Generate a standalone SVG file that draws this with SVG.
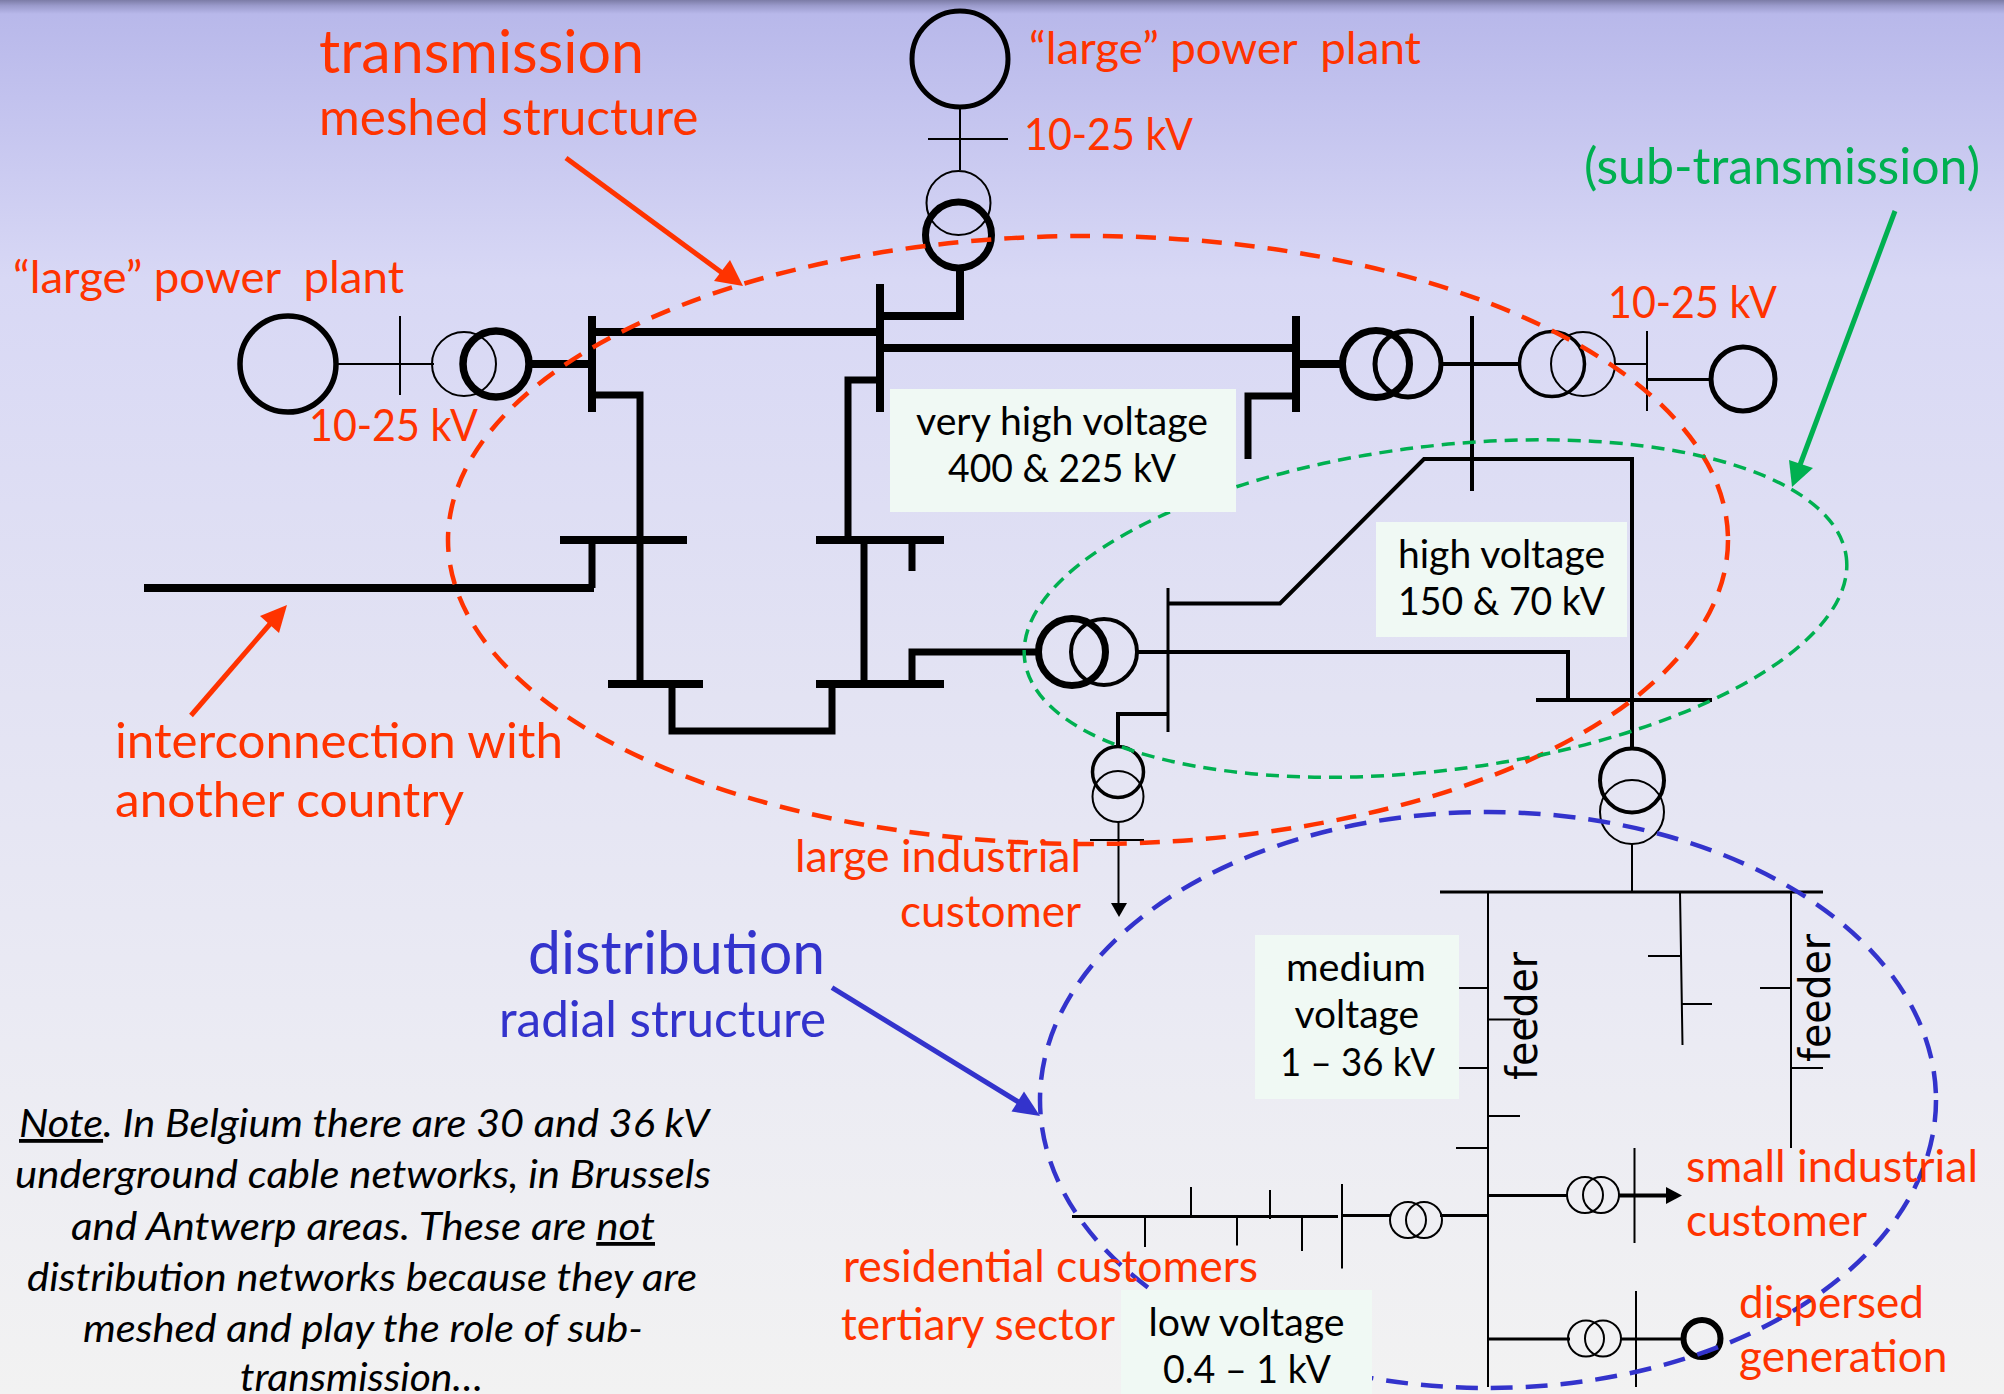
<svg xmlns="http://www.w3.org/2000/svg" width="2004" height="1394" viewBox="0 0 2004 1394">
<style>
text{font-family:"Lato","Carlito","Noto Sans",sans-serif;white-space:pre}
.red{fill:#ff3300}.blue{fill:#3333cc}.green{fill:#00b050}.blk{fill:#000}
.s41{font-size:45px}.s36{font-size:39px}.s46{font-size:50px}.s55{font-size:60px}.s44{font-size:48px}
.note{font-size:38px;font-style:italic;fill:#000}
.feeder{font-family:"DejaVu Sans",sans-serif;font-size:42px;fill:#000}
.l{fill:none;stroke:#000;stroke-linecap:butt;stroke-linejoin:miter}
.w2{stroke-width:2}.w3{stroke-width:3}.w4{stroke-width:4}.w6{stroke-width:7}.w8{stroke-width:8}
.c{fill:none;stroke:#000}
.box{fill:#f0f9f4}
.eRed{fill:none;stroke:#ff3300;stroke-width:4.500;stroke-dasharray:20 13}
.eGreen{fill:none;stroke:#00b050;stroke-width:3.500;stroke-dasharray:13 8}
.eBlue{fill:none;stroke:#3333cc;stroke-width:4.500;stroke-dasharray:22 13}
</style>
<defs>
<linearGradient id="bg" x1="0" y1="0" x2="0" y2="1">
<stop offset="0" stop-color="#7c7ca6"/><stop offset="0.004" stop-color="#9a9acb"/><stop offset="0.01" stop-color="#b8b8ea"/><stop offset="0.07" stop-color="#c2c2ee"/><stop offset="0.2" stop-color="#d8d8f5"/><stop offset="0.5" stop-color="#e3e3f3"/><stop offset="0.75" stop-color="#ebebf3"/><stop offset="1" stop-color="#f2f2f2"/>
</linearGradient>
</defs>
<rect width="2004" height="1394" fill="url(#bg)"/>

<g id="connectors">
<path class="l w2" d="M336 364H434M400 316V395"/>
<path class="l w8" d="M529 364H590"/>
<path class="l w8" d="M592 316V412M880 284V412M1296 316V412"/>
<path class="l w8" d="M592 332H880M880 348H1296M1298 364H1342"/>
<path class="l w8" d="M880 316H960V268"/>
<path class="l w2" d="M960 108V170M928 139H1008"/>
<path class="l w6" d="M592 395H640V684"/>
<path class="l w8" d="M560 540H687M816 540H944M608 684H703M816 684H944"/>
<path class="l w6" d="M592 540V588"/>
<path class="l w8" d="M144 588H594"/>
<path class="l w6" d="M880 380H848V540M864 540V684M912 540V571"/>
<path class="l w6" d="M912 684V652H1040"/>
<path class="l w6" d="M672 684V731H832V684"/>
<path class="l w6" d="M1296 396H1248V459"/>
<path class="l w4" d="M1442 364H1518M1472 316V491"/>
<path class="l w2" d="M1615 364H1647M1647 331V411"/>
<path class="l w3" d="M1647 379.500H1711"/>
<path class="l w4" d="M1168 603.500H1280L1424 459H1632V748"/>
<path class="l w3" d="M1168 588V732"/>
<path class="l w4" d="M1138 652H1568V699"/>
<path class="l w4" d="M1536 700H1712"/>
<path class="l w4" d="M1168 714H1118V746"/>
<path class="l w2" d="M1118.500 822V905M1090 840H1144"/>
<path d="M1111 903H1127L1119 917Z" fill="#000"/>
<path class="l w2" d="M1632 844V892"/>
<path class="l w3" d="M1440 892H1823"/>
<path class="l w2" d="M1488 892V1387"/>
<path class="l w2" d="M1459 988H1488M1488 1019.500H1520M1459 1068H1488M1488 1116H1520M1456 1148H1488"/>
<path class="l w2" d="M1680 892L1682.500 1045M1648 956H1680M1682 1004H1712"/>
<path class="l w2" d="M1791 892V1148M1760 988H1791M1791 1068H1823"/>
<path class="l w3" d="M1488 1215.500H1440M1390.500 1215.500H1342"/>
<path class="l w2" d="M1342 1184V1268.600"/>
<path class="l w3" d="M1072 1216.500H1338"/>
<path class="l w2" d="M1191 1187V1216M1145 1216V1247M1237 1216V1245.600M1270 1190V1219M1302 1215V1251"/>
<path class="l w3" d="M1488 1195.600H1568"/>
<path class="l w4" d="M1618 1195.600H1668"/>
<path d="M1666 1187L1682 1195.600L1666 1204Z" fill="#000"/>
<path class="l w2" d="M1634.500 1148V1243"/>
<path class="l w3" d="M1489 1339H1570M1620 1339H1684"/>
<path class="l w2" d="M1636 1291V1387"/>
</g>

<g id="gen-left"><circle class="c" cx="288" cy="364" r="48" stroke-width="5.500"/></g>
<g id="trafo-left"><circle class="c" cx="464" cy="364" r="32" stroke-width="2"/><circle class="c" cx="496" cy="364" r="33" stroke-width="7.500"/></g>
<g id="gen-top"><circle class="c" cx="960" cy="59" r="48" stroke-width="5"/></g>
<g id="trafo-top"><circle class="c" cx="958.500" cy="203" r="32" stroke-width="2"/><circle class="c" cx="958.500" cy="235" r="33" stroke-width="7"/></g>
<g id="trafo-vhv-hv"><circle class="c" cx="1376" cy="364" r="33.500" stroke-width="7"/><circle class="c" cx="1408" cy="364" r="33" stroke-width="5"/></g>
<g id="trafo-right"><circle class="c" cx="1552" cy="364" r="32.500" stroke-width="3.500"/><circle class="c" cx="1583" cy="364" r="32" stroke-width="2"/></g>
<g id="gen-right"><circle class="c" cx="1743" cy="379" r="32" stroke-width="5"/></g>
<g id="trafo-mid"><circle class="c" cx="1072" cy="652" r="33.500" stroke-width="7"/><circle class="c" cx="1104" cy="652" r="33" stroke-width="4"/></g>
<g id="trafo-large-ind"><circle class="c" cx="1118" cy="772" r="25.500" stroke-width="3.500"/><circle class="c" cx="1118" cy="796.500" r="25.500" stroke-width="2"/></g>
<g id="trafo-hv-mv"><circle class="c" cx="1632" cy="780.500" r="32" stroke-width="4"/><circle class="c" cx="1632" cy="812" r="32" stroke-width="2"/></g>
<g id="trafo-lv"><circle class="c" cx="1408" cy="1220" r="18" stroke-width="2"/><circle class="c" cx="1424" cy="1220" r="18" stroke-width="2"/></g>
<g id="trafo-small-ind"><circle class="c" cx="1585" cy="1195" r="18" stroke-width="2"/><circle class="c" cx="1601" cy="1195" r="18" stroke-width="2"/></g>
<g id="trafo-dispersed"><circle class="c" cx="1586" cy="1338.500" r="18" stroke-width="2"/><circle class="c" cx="1603" cy="1338.500" r="18" stroke-width="2"/></g>
<g id="gen-dispersed"><circle class="c" cx="1702" cy="1338.500" r="18.500" stroke-width="6"/></g>

<g id="zone-transmission">
<ellipse class="eRed" cx="1088" cy="540" rx="640" ry="304"/>
<path d="M566 158L725 275" stroke="#ff3300" stroke-width="5" fill="none"/>
<path d="M714 281L730 260L743 286Z" fill="#ff3300"/>
</g>
<g id="zone-interconnection">
<path d="M191 715.500L270 624" stroke="#ff3300" stroke-width="5" fill="none"/>
<path d="M260 616L279 633L287 605Z" fill="#ff3300"/>
</g>
<g id="zone-sub">
<ellipse class="eGreen" cx="1435.500" cy="608.500" rx="414" ry="162" transform="rotate(-7.100 1435.500 608.500)"/>
<path d="M1895 211L1800 465" stroke="#00b050" stroke-width="5" fill="none"/>
<path d="M1789 460L1813 468L1792 487Z" fill="#00b050"/>
</g>
<g id="zone-distribution">
<ellipse class="eBlue" cx="1488" cy="1100" rx="448" ry="288"/>
<path d="M832 987.600L1020 1103" stroke="#3333cc" stroke-width="5" fill="none"/>
<path d="M1011.500 1111.500L1024 1091.600L1040 1116Z" fill="#3333cc"/>
</g>

<g id="label-vhv"><rect class="box" x="890" y="389" width="346" height="123"/>
<text class="blk s36" x="916" y="435" textLength="292" lengthAdjust="spacingAndGlyphs">very high voltage</text>
<text class="blk s36" x="948" y="482" textLength="228" lengthAdjust="spacingAndGlyphs">400 &amp; 225 kV</text></g>
<g id="label-hv"><rect class="box" x="1376" y="522" width="251" height="115"/>
<text class="blk s36" x="1398" y="568" textLength="207" lengthAdjust="spacingAndGlyphs">high voltage</text>
<text class="blk s36" x="1398" y="615" textLength="207" lengthAdjust="spacingAndGlyphs">150 &amp; 70 kV</text></g>
<g id="label-mv"><rect class="box" x="1255" y="935" width="204" height="164"/>
<text class="blk s36" x="1286" y="981" textLength="140" lengthAdjust="spacingAndGlyphs">medium</text>
<text class="blk s36" x="1294.500" y="1028" textLength="124.500" lengthAdjust="spacingAndGlyphs">voltage</text>
<text class="blk s36" x="1280" y="1076" textLength="155" lengthAdjust="spacingAndGlyphs">1 – 36 kV</text></g>
<g id="label-lv"><rect class="box" x="1121" y="1290" width="251" height="104"/>
<text class="blk s36" x="1148.500" y="1336" textLength="196" lengthAdjust="spacingAndGlyphs">low voltage</text>
<text class="blk s36" x="1163" y="1383" textLength="168" lengthAdjust="spacingAndGlyphs">0.4 – 1 kV</text></g>

<g id="labels">
<text class="red s55" x="319" y="73" textLength="325" lengthAdjust="spacingAndGlyphs">transmission</text>
<text class="red s46" x="319" y="135" textLength="379.500" lengthAdjust="spacingAndGlyphs">meshed structure</text>
<text class="red s41" x="13" y="293" textLength="391" lengthAdjust="spacingAndGlyphs">“large” power  plant</text>
<text class="red s41" x="309" y="441" textLength="169" lengthAdjust="spacingAndGlyphs">10-25 kV</text>
<text class="red s41" x="1029" y="64" textLength="392" lengthAdjust="spacingAndGlyphs">“large” power  plant</text>
<text class="red s41" x="1024" y="150" textLength="169" lengthAdjust="spacingAndGlyphs">10-25 kV</text>
<text class="red s41" x="1608" y="318" textLength="169" lengthAdjust="spacingAndGlyphs">10-25 kV</text>
<text class="green s46" x="1584" y="184" textLength="396" lengthAdjust="spacingAndGlyphs">(sub-transmission)</text>
<text class="red s44" x="115" y="757.500" textLength="448" lengthAdjust="spacingAndGlyphs">interconnection with</text>
<text class="red s44" x="115" y="817" textLength="349" lengthAdjust="spacingAndGlyphs">another country</text>
<text class="red s41" x="795" y="872" textLength="286" lengthAdjust="spacingAndGlyphs">large industrial</text>
<text class="red s41" x="900" y="926.500" textLength="181" lengthAdjust="spacingAndGlyphs">customer</text>
<text class="blue s55" x="528" y="973.500" textLength="297" lengthAdjust="spacingAndGlyphs">distribution</text>
<text class="blue s46" x="499" y="1037" textLength="327" lengthAdjust="spacingAndGlyphs">radial structure</text>
<text class="red s41" x="843" y="1282" textLength="415" lengthAdjust="spacingAndGlyphs">residential customers</text>
<text class="red s41" x="841" y="1340" textLength="274" lengthAdjust="spacingAndGlyphs">tertiary sector</text>
<text class="red s41" x="1686" y="1182" textLength="292" lengthAdjust="spacingAndGlyphs">small industrial</text>
<text class="red s41" x="1686" y="1235.500" textLength="181" lengthAdjust="spacingAndGlyphs">customer</text>
<text class="red s41" x="1739" y="1318" textLength="185" lengthAdjust="spacingAndGlyphs">dispersed</text>
<text class="red s41" x="1739" y="1372" textLength="208.500" lengthAdjust="spacingAndGlyphs">generation</text>
<text class="feeder" transform="translate(1537 1080) rotate(-90)" textLength="128" lengthAdjust="spacingAndGlyphs">feeder</text>
<text class="feeder" transform="translate(1830 1062) rotate(-90)" textLength="128" lengthAdjust="spacingAndGlyphs">feeder</text>
</g>

<g id="note">
<text class="note" x="19" y="1137" textLength="690" lengthAdjust="spacingAndGlyphs"><tspan text-decoration="underline">Note</tspan>. In Belgium there are 30 and 36 kV</text>
<text class="note" x="15" y="1188" textLength="696" lengthAdjust="spacingAndGlyphs">underground cable networks, in Brussels</text>
<text class="note" x="71" y="1240" textLength="584" lengthAdjust="spacingAndGlyphs">and Antwerp areas. These are <tspan text-decoration="underline">not</tspan></text>
<text class="note" x="27" y="1291" textLength="670" lengthAdjust="spacingAndGlyphs">distribution networks because they are</text>
<text class="note" x="83" y="1341.600" textLength="560" lengthAdjust="spacingAndGlyphs">meshed and play the role of sub-</text>
<text class="note" x="240" y="1391" textLength="243" lengthAdjust="spacingAndGlyphs">transmission…</text>
</g>
</svg>
